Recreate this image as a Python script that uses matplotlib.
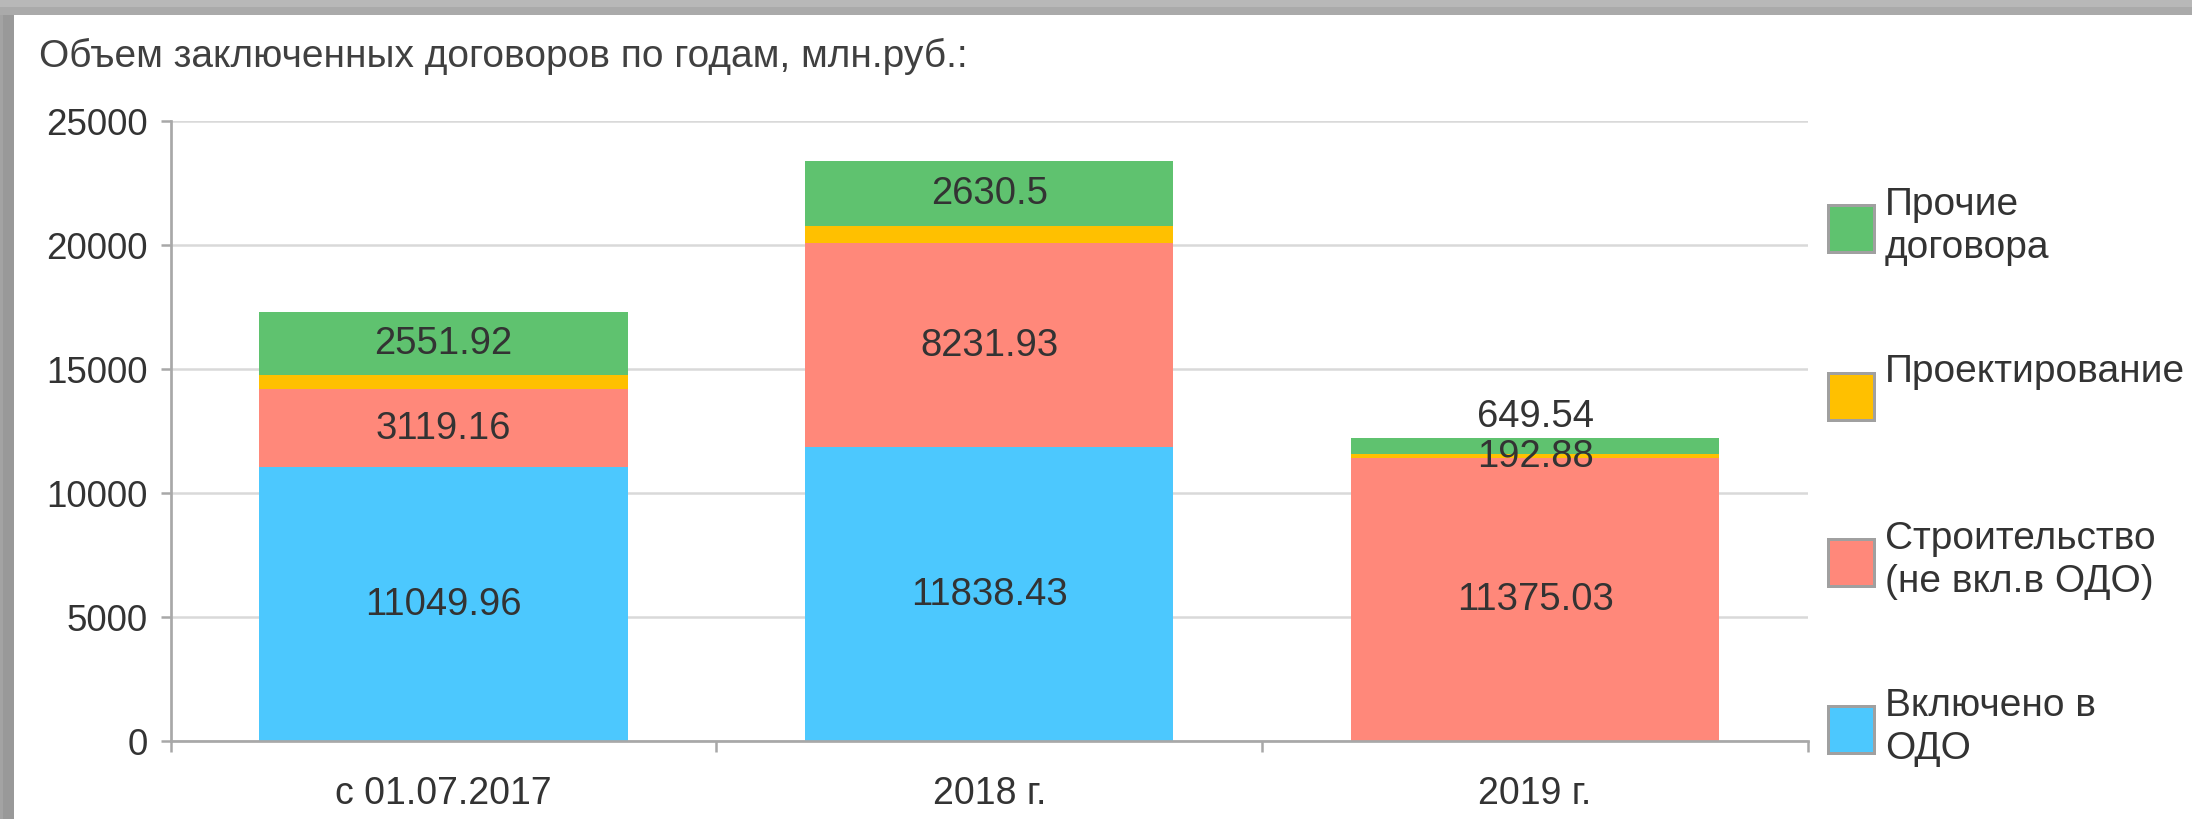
import matplotlib as mpl

mpl.use('Agg')

import matplotlib.pyplot as plt
import numpy as np
from matplotlib.patches import Rectangle

plt.rcParams['font.family'] = ['Liberation Sans', 'DejaVu Sans']

W, H = 2192, 820

title = "Объем заключенных договоров по годам, млн.руб.:"
categories = ["с 01.07.2017", "2018 г.", "2019 г."]

# bottom to top of each stack
series_names = ["Включено в\nОДО", "Строительство\n(не вкл.в ОДО)",
                "Проектирование", "Прочие\nдоговора"]
included = [11049.96, 11838.43, 0]
construction = [3119.16, 8231.93, 11375.03]
design = [570, 680, 192.88]   # first two are not labelled
other = [2551.92, 2630.5, 649.54]
colors = ["#4cc8fe", "#ff887a", "#ffc000", "#5fc26f"]

# 1 = label inside segment, 2 = label above the bar, 0 = no label
label_mode = [[1, 1, 0], [1, 1, 1], [0, 0, 1], [1, 1, 2]]

yticks = [0, 5000, 10000, 15000, 20000, 25000]

FS = 28
TXT = '#333333'
AXC = '#a8a8a8'


def px(v):
    # pixels -> points at dpi 100
    return v * 72 / 100


def fmt(v):
    return f"{v:.2f}".rstrip('0').rstrip('.')


def main():
    fig = plt.figure(figsize=(W / 100, H / 100), dpi=100)

    # screenshot frame
    fig.add_artist(Rectangle((0, 1 - 8 / H), 1, 8 / H, transform=fig.transFigure,
                             color='#b8b8b8', lw=0))
    fig.add_artist(Rectangle((0, 1 - 16 / H), 1, 8 / H, transform=fig.transFigure,
                             color='#aaaaaa', lw=0))
    fig.add_artist(Rectangle((0, 0), 14 / W, 1 - 16 / H, transform=fig.transFigure,
                             color='#999999', lw=0))
    fig.add_artist(Rectangle((0, 0), 3 / W, 1 - 16 / H, transform=fig.transFigure,
                             color='#a3a3a3', lw=0))

    ax = fig.add_axes([170.5 / W, 1 - 741.5 / H, (1808 - 170.5) / W,
                       (741.5 - 121.7) / H])

    x = np.arange(len(categories))
    bottom = np.zeros(len(categories))
    data = [included, construction, design, other]
    for vals, color, modes in zip(data, colors, label_mode):
        vals = np.array(vals, dtype=float)
        ax.bar(x, vals, 0.675, bottom=bottom, color=color, lw=0, zorder=2)
        for i in range(len(x)):
            if modes[i] == 1:
                ax.text(x[i], bottom[i] + vals[i] / 2, fmt(vals[i]),
                        ha='center', va='center', fontsize=27.5, color=TXT,
                        zorder=3)
            elif modes[i] == 2:
                ax.annotate(fmt(vals[i]), (x[i], bottom[i] + vals[i]),
                            xytext=(0, px(22)), textcoords='offset points',
                            ha='center', va='center', fontsize=27.5,
                            color=TXT, zorder=3)
        bottom += vals

    ax.set_xlim(-0.5, len(categories) - 0.5)
    ax.set_ylim(0, 25000)
    ax.set_yticks(yticks)
    ax.set_xticks(x)
    ax.set_xticklabels(categories)
    ax.set_xticks(np.arange(len(categories) + 1) - 0.5, minor=True)

    ax.set_axisbelow(True)
    ax.yaxis.grid(True, color='#d9d9d9', lw=px(2.5))
    for s in ['top', 'right']:
        ax.spines[s].set_visible(False)
    for s in ['left', 'bottom']:
        ax.spines[s].set_color(AXC)
        ax.spines[s].set_linewidth(px(2.7))

    ax.tick_params(axis='y', length=px(10), width=px(2.5), color=AXC,
                   pad=px(13), labelsize=26.5, labelcolor=TXT)
    ax.tick_params(axis='x', which='major', length=0, pad=px(35),
                   labelsize=27, labelcolor=TXT)
    ax.tick_params(axis='x', which='minor', length=px(11), width=px(2.5),
                   color=AXC)

    fig.text(39 / W, 1 - 67 / H, title, ha='left', va='baseline',
             fontsize=FS, color='#404040')

    # legend, top entry is the top of the stack
    tops = [206, 373.5, 540, 707]
    for top, name, color in zip(tops, series_names[::-1], colors[::-1]):
        fig.add_artist(Rectangle((1828 / W, 1 - (top + 47) / H), 46 / W, 47 / H,
                                 transform=fig.transFigure, facecolor=color,
                                 edgecolor='#a0a0a0', lw=px(3)))
        fig.text(1885 / W, 1 - (top - 19) / H, name, ha='left', va='top',
                 fontsize=FS, color=TXT, linespacing=1.25)

    fig.savefig('out.png', dpi=100)


if __name__ == '__main__':
    main()
